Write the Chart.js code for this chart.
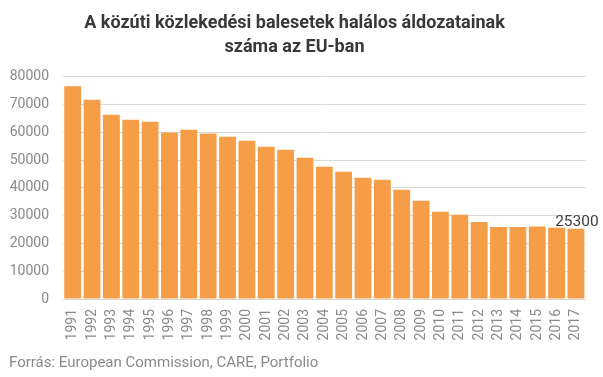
<!DOCTYPE html>
<html>
<head>
<meta charset="utf-8">
<script src="https://cdn.jsdelivr.net/npm/chart.js@4"></script>
<style>
html,body{margin:0;padding:0;background:#fff;}
#wrap{width:603px;height:377px;position:relative;}
</style>
</head>
<body>
<div id="wrap"><canvas id="c" width="603" height="377"></canvas></div>
<script>
const years = ['1991','1992','1993','1994','1995','1996','1997','1998','1999','2000','2001','2002','2003','2004','2005','2006','2007','2008','2009','2010','2011','2012','2013','2014','2015','2016','2017'];
const deaths = [76500,71700,66300,64500,63800,59900,60900,59500,58400,56900,54800,53700,50800,47600,45800,43600,42900,39300,35300,31400,30300,27700,25900,25900,26100,25600,25300];
const yTicks = [0,10000,20000,30000,40000,50000,60000,70000,80000];
const titleLines = ['A közúti közlekedési balesetek halálos áldozatainak','száma az EU-ban'];
const sourceText = 'Forrás: European Commission, CARE, Portfolio';
const labelIndex = deaths.length - 1;

const extras = {
  id:'extras',
  afterDatasetsDraw(chart){
    const ctx = chart.ctx;
    const meta = chart.getDatasetMeta(0);
    const bar = meta.data[labelIndex];
    ctx.save();
    ctx.font = '15.5px Roboto';
    ctx.fillStyle = '#404040';
    ctx.textAlign = 'center';
    ctx.textBaseline = 'bottom';
    ctx.fillText(String(deaths[labelIndex]), bar.x + 1, bar.y + 1);
    ctx.restore();
  },
  afterDraw(chart){
    const ctx = chart.ctx;
    ctx.save();
    ctx.font = '15px Roboto';
    ctx.fillStyle = '#8a8a8a';
    ctx.textAlign = 'left';
    ctx.textBaseline = 'middle';
    ctx.fillText(sourceText, 9, 363);
    ctx.restore();
  }
};

new Chart(document.getElementById('c'), {
  type:'bar',
  data:{
    labels: years,
    datasets:[{
      data: deaths,
      backgroundColor:'#F59D47',
      borderWidth:0,
      barPercentage:0.87,
      categoryPercentage:1.0
    }]
  },
  options:{
    responsive:false,
    animation:false,
    layout:{padding:{left:0,right:14,top:0,bottom:0}},
    plugins:{
      legend:{display:false},
      tooltip:{enabled:false},
      title:{
        display:true,
        text:titleLines,
        color:'#383838',
        font:{family:'Roboto',size:18,weight:'bold',lineHeight:1.35},
        padding:{top:11,bottom:17}
      }
    },
    scales:{
      x:{
        grid:{display:false,drawTicks:false},
        border:{display:true,color:'#d9d9d9',width:1},
        ticks:{color:'#8a8a8a',font:{family:'Roboto',size:14},maxRotation:90,minRotation:90,padding:10,autoSkip:false},
        afterFit(s){ s.height = 78; }
      },
      y:{
        min:0,max:80000,
        afterBuildTicks(s){ s.ticks = yTicks.map(v=>({value:v})); },
        grid:{color:'#d9d9d9',lineWidth:1,drawTicks:false},
        border:{display:false},
        ticks:{color:'#8a8a8a',font:{family:'Roboto',size:14},padding:14,callback:(v)=>String(v)},
        afterFit(s){ s.width = 63; }
      }
    }
  },
  plugins:[extras]
});
</script>
</body>
</html>
